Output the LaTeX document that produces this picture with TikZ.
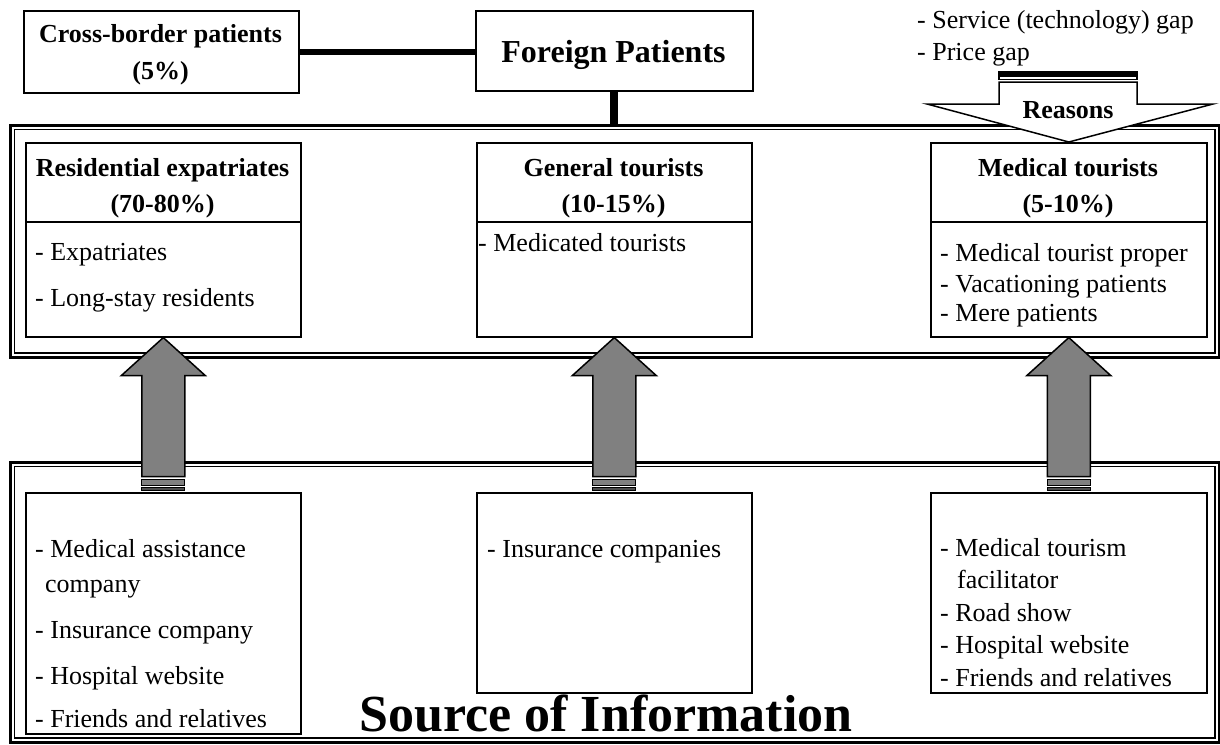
\documentclass[tikz,border=0pt]{standalone}
\usepackage{fontspec}
\setmainfont{Liberation Serif}
\usetikzlibrary{calc}
\definecolor{arrowgray}{RGB}{128,128,128}
% up-pointing grey block arrow with a striped tail, tip at the south of box #1
\newcommand\grayup[1]{%
  \draw[uparr] (#1.south) -- ++(42,38) -- ++(-20.5,0) -- ++(0,101) -- ++(-43,0)
        -- ++(0,-101) -- ++(-20.5,0) -- cycle;
  \draw[line width=1.2pt,fill=arrowgray] ($(#1.south)+(-21.5,142)$) rectangle ++(43,5.5);
  \draw[line width=1.2pt,fill=black!70] ($(#1.south)+(-21.5,150)$) rectangle ++(43,2.5);
}
\begin{document}
\begin{tikzpicture}[x=1pt,y=-1pt,
  box/.style={draw,line width=1.6pt,fill=white,inner sep=0pt,anchor=north west},
  frameout/.style={draw,line width=2.6pt,inner sep=0pt,anchor=north west,minimum width=1209},
  framein/.style={line width=1.6pt},
  body/.style={font=\fontsize{26}{31}\selectfont,inner sep=0pt,anchor=base west},
  head/.style={font=\fontsize{26}{31}\selectfont\bfseries,inner sep=0pt,anchor=base},
  uparr/.style={draw,line width=1.5pt,fill=arrowgray,line join=miter},
]
\useasboundingbox (0,0) rectangle (1220,744);

% double-lined frames
\node[frameout,minimum height=232] (upper) at (9,124) {};
\draw[framein] ($(upper.north west)+(5.5,5.5)$) rectangle ($(upper.south east)+(-5.5,-5.5)$);
\node[frameout,minimum height=280] (lower) at (9,461) {};
\draw[framein] ($(lower.north west)+(5.5,5.5)$) rectangle ($(lower.south east)+(-5.5,-5.5)$);

% top boxes
\node[box,minimum width=275,minimum height=82] (cross) at (23,10) {};
\node[box,minimum width=277,minimum height=80] (foreign) at (475,10) {};
\draw[line width=6pt] (cross.east) -- (cross.east -| foreign.west);
\draw[line width=8pt] (foreign.south) -- (foreign.south |- upper.north);
\node[head] (crossA) at (160.5,42) {Cross-border patients};
\node[head] (crossB) at (160.5,79) {(5\%)};
\node[head,font=\fontsize{32}{36}\selectfont\bfseries] (foreignT) at (613.5,62) {Foreign Patients};

% patient groups
\node[box,minimum width=275,minimum height=194] (lu) at (25,142) {};
\node[box,minimum width=275,minimum height=194] (mu) at (476,142) {};
\node[box,minimum width=276,minimum height=194] (ru) at (930,142) {};
\foreach \b in {lu,mu,ru}
  \draw[line width=1.6pt] ($(\b.north west)+(0,80)$) -- ($(\b.north east)+(0,80)$);

\node[head] (luA) at (162.5,176) {Residential expatriates};
\node[head] (luB) at (162.5,212) {(70-80\%)};
\node[head] (muA) at (613.5,176) {General tourists};
\node[head] (muB) at (613.5,212) {(10-15\%)};
\node[head] (ruA) at (1068,176) {Medical tourists};
\node[head] (ruB) at (1068,212) {(5-10\%)};

\node[body] (lu1) at (35,260) {- Expatriates};
\node[body] (lu2) at (35,306) {- Long-stay residents};
\node[body] (mu1) at (478,251) {- Medicated tourists};
\node[body] (ru1) at (940,261) {- Medical tourist proper};
\node[body] (ru2) at (940,292) {- Vacationing patients};
\node[body] (ru3) at (940,321) {- Mere patients};

% reasons
\node[body] (gap1) at (917,28) {- Service (technology) gap};
\node[body] (gap2) at (917,60) {- Price gap};
\draw[line width=1.5pt,fill=white,line join=miter] (ru.north) -- (927,104) -- (999,104)
   -- (999,82) -- (1137,82) -- (1137,104) -- (1213,104) -- cycle;
\draw[line width=1.2pt,fill=white] (999,76) rectangle (1137,79.5);
\draw[line width=1.2pt,fill=black] (999,72) rectangle (1137,74);
\node[head] (reasons) at (1068,118) {Reasons};

% sources of information
\node[box,minimum width=275,minimum height=241] (ll) at (25,492) {};
\node[box,minimum width=275,minimum height=200] (ml) at (476,492) {};
\node[box,minimum width=276,minimum height=200] (rl) at (930,492) {};

\node[body] (ll1) at (35,557) {- Medical assistance};
\node[body] (ll2) at (45,592) {company};
\node[body] (ll3) at (35,638) {- Insurance company};
\node[body] (ll4) at (35,684) {- Hospital website};
\node[body] (ll5) at (35,727) {- Friends and relatives};
\node[body] (ml1) at (487,557) {- Insurance companies};
\node[body] (rl1) at (940,556) {- Medical tourism};
\node[body] (rl2) at (957,588) {facilitator};
\node[body] (rl3) at (940,621) {- Road show};
\node[body] (rl4) at (940,653) {- Hospital website};
\node[body] (rl5) at (940,686) {- Friends and relatives};

\node[head,font=\fontsize{52}{56}\selectfont\bfseries] (src) at (606,731) {Source of Information};

% arrows from sources up to the groups
\grayup{lu}
\grayup{mu}
\grayup{ru}
\end{tikzpicture}
\end{document}
